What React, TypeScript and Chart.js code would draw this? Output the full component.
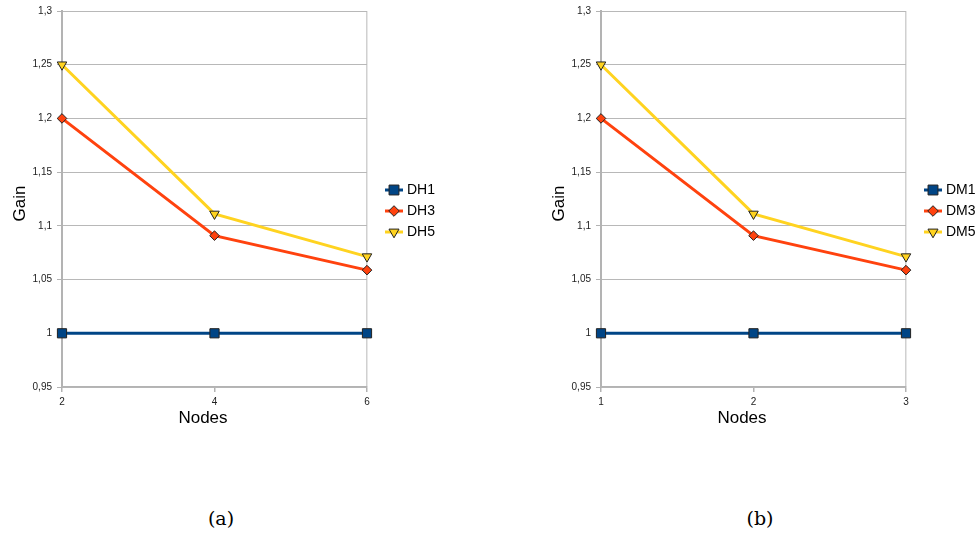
import React, { useEffect, useRef } from 'react';
import { Chart, registerables } from 'chart.js';
import { drawPoint } from 'chart.js/helpers';

Chart.register(...registerables);

// ---- data ----
const nodesA = [2, 4, 6];
const nodesB = [1, 2, 3];
const DH1 = [1, 1, 1];
const DH3 = [1.2, 1.0909, 1.0588];
const DH5 = [1.25, 1.1111, 1.0714];
const DM1 = [1, 1, 1];
const DM3 = [1.2, 1.0909, 1.0588];
const DM5 = [1.25, 1.1111, 1.0714];
const namesA = ['DH1', 'DH3', 'DH5'];
const namesB = ['DM1', 'DM3', 'DM5'];
const yTickValues = [0.95, 1, 1.05, 1.1, 1.15, 1.2, 1.25, 1.3];
const yTickLabels = ['0,95', '1', '1,05', '1,1', '1,15', '1,2', '1,25', '1,3'];
const xTitle = 'Nodes';
const yTitle = 'Gain';
const captions = ['(a)', '(b)'];

// ---- styles ----
const seriesStyles = [
  { color: '#004586', pointStyle: 'rect', radius: 6.5, rotation: 0, legendRadius: 7 },
  { color: '#ff420e', pointStyle: 'rectRot', radius: 4.8, rotation: 0, legendRadius: 5.3 },
  { color: '#ffd320', pointStyle: 'triangle', radius: 5.5, rotation: 180, legendRadius: 5.8 },
];
const FONT = "'Liberation Sans', Arial, sans-serif";

function makeDecor(names: string[]) {
  return {
    id: 'decor',
    afterDraw(chart: any) {
      const { ctx, chartArea: a } = chart;
      ctx.save();
      ctx.fillStyle = '#000';
      // axis titles
      ctx.font = `17px ${FONT}`;
      ctx.textAlign = 'center';
      ctx.textBaseline = 'alphabetic';
      ctx.fillText(xTitle, (a.left + a.right) / 2 - 11.5, a.bottom + 36);
      ctx.save();
      ctx.translate(a.left - 37, (a.top + a.bottom) / 2 + 4.5);
      ctx.rotate(-Math.PI / 2);
      ctx.fillText(yTitle, 0, 0);
      ctx.restore();
      // legend
      ctx.font = `14px ${FONT}`;
      ctx.textAlign = 'left';
      ctx.textBaseline = 'middle';
      names.forEach((name, i) => {
        const st = seriesStyles[i];
        const y = a.top + 179 + i * 21;
        const x0 = a.right + 18;
        ctx.strokeStyle = st.color;
        ctx.lineWidth = 3;
        ctx.beginPath();
        ctx.moveTo(x0, y);
        ctx.lineTo(x0 + 18, y);
        ctx.stroke();
        ctx.fillStyle = st.color;
        ctx.strokeStyle = '#222';
        ctx.lineWidth = 1;
        drawPoint(ctx, { pointStyle: st.pointStyle, radius: st.legendRadius, rotation: st.rotation, borderWidth: 1 } as any, x0 + 9, y);
        ctx.fillStyle = '#000';
        ctx.fillText(name, x0 + 22, y + 0.5);
      });
      ctx.restore();
    },
  };
}

function buildConfig(xs: number[], series: number[][], names: string[]): any {
  return {
    type: 'line',
    data: {
      datasets: series.map((vals, i) => ({
        label: names[i],
        data: xs.map((x, j) => ({ x, y: vals[j] })),
        borderColor: seriesStyles[i].color,
        backgroundColor: seriesStyles[i].color,
        borderWidth: 3,
        tension: 0,
        pointStyle: seriesStyles[i].pointStyle,
        pointRadius: seriesStyles[i].radius,
        pointRotation: seriesStyles[i].rotation,
        pointBackgroundColor: seriesStyles[i].color,
        pointBorderColor: '#222',
        pointBorderWidth: 1,
        clip: false,
      })),
    },
    options: {
      responsive: false,
      animation: false,
      events: [],
      layout: { padding: { top: 10, right: 72, bottom: 0, left: 0 } },
      plugins: { legend: { display: false }, tooltip: { enabled: false } },
      scales: {
        x: {
          type: 'linear',
          min: xs[0],
          max: xs[xs.length - 1],
          afterBuildTicks: (s: any) => { s.ticks = xs.map((v) => ({ value: v })); },
          afterFit: (s: any) => { s.height = 43; },
          ticks: { font: { size: 10, family: FONT }, color: '#222', padding: 4, autoSkip: false, maxRotation: 0, callback: (v: any) => String(v) },
          grid: {
            color: (c: any) => (c.index === xs.length - 1 ? '#d0d0d0' : 'rgba(0,0,0,0)'),
            lineWidth: 1.5,
            tickColor: '#b3b3b3',
            tickLength: 5,
          },
          border: { display: true, color: '#b3b3b3', width: 1.5 },
        },
        y: {
          min: yTickValues[0],
          max: yTickValues[yTickValues.length - 1],
          afterBuildTicks: (s: any) => { s.ticks = yTickValues.map((v) => ({ value: v })); },
          afterFit: (s: any) => { s.width = 62; },
          ticks: { font: { size: 10, family: FONT }, color: '#222', padding: 5, callback: (_v: any, i: number) => yTickLabels[i] },
          grid: { color: '#b8b8b8', lineWidth: 1, tickLength: 5, tickColor: '#b3b3b3' },
          border: { display: true, color: '#b3b3b3', width: 2 },
        },
      },
    },
    plugins: [makeDecor(names)],
  };
}

function LineChart({ xs, series, names, left }: { xs: number[]; series: number[][]; names: string[]; left: number }) {
  const ref = useRef<HTMLCanvasElement | null>(null);
  useEffect(() => {
    if (!ref.current) return;
    const chart = new Chart(ref.current, buildConfig(xs, series, names));
    return () => chart.destroy();
  }, []);
  return (
    <canvas
      ref={ref}
      width={439}
      height={430}
      style={{ position: 'absolute', left, top: 0, width: 439, height: 430 }}
    />
  );
}

export default function App() {
  const captionStyle = (cx: number): React.CSSProperties => ({
    position: 'absolute',
    left: cx - 50,
    width: 100,
    top: 507,
    lineHeight: '22px',
    textAlign: 'center',
    fontFamily: "'DejaVu Serif', serif",
    fontSize: 19,
    color: '#000',
  });
  return (
    <div style={{ position: 'fixed', left: 0, top: 0, width: 978, height: 534, background: '#fff', overflow: 'hidden' }}>
      <LineChart xs={nodesA} series={[DH1, DH3, DH5]} names={namesA} left={0} />
      <LineChart xs={nodesB} series={[DM1, DM3, DM5]} names={namesB} left={539} />
      <div style={captionStyle(221)}>{captions[0]}</div>
      <div style={captionStyle(760)}>{captions[1]}</div>
    </div>
  );
}
